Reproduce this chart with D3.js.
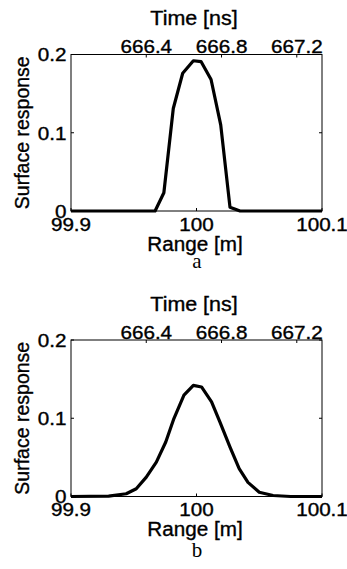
<!DOCTYPE html>
<html>
<head>
<meta charset="utf-8">
<script src="https://cdn.jsdelivr.net/npm/d3@7"></script>
<style>
body { margin: 0; background: #fff; }
svg { display: block; }
.lbl { font-family: "Liberation Sans", Arial, sans-serif; fill: #000; stroke: #000; stroke-width: 0.35px; }
.cap { font-family: "Liberation Serif", "Times New Roman", serif; fill: #000; }
</style>
</head>
<body>
<script>
// range [m] vs surface response
const rangeA = [99.9, 99.967, 99.974, 99.9815, 99.989, 99.9975, 100.0036, 100.0116, 100.0193, 100.0267, 100.0347, 100.1];
const respA  = [0, 0, 0.0233, 0.131, 0.176, 0.192, 0.191, 0.168, 0.110, 0.0047, 0, 0];

const rangeB = [99.9, 99.93, 99.944, 99.952, 99.96, 99.968, 99.9755, 99.982, 99.99, 99.9975, 100.004, 100.012,
                100.0187, 100.0267, 100.034, 100.041, 100.05, 100.061, 100.075, 100.1];
const respB  = [0, 0.0005, 0.0035, 0.0099, 0.0248, 0.044, 0.0697, 0.0996, 0.1295, 0.142, 0.140, 0.121,
                0.095, 0.063, 0.0355, 0.018, 0.0055, 0.0013, 0, 0];

const rangeTicks = [99.9, 100, 100.1];
const timeTicks = [666.4, 666.8, 667.2];
const respTicks = [0, 0.1, 0.2];
const rangeDomain = [99.9, 100.1];
const timeDomain = [666.0, 667.334];
const respDomain = [0, 0.2];

const W = 347, H = 569;
const left = 71, right = 322, plotH = 156.5;

let svg = d3.select("body").append("svg")
    .attr("width", W)
    .attr("height", H);

// horizontal text is drawn a bit wider than plain Arial, as in the scan
function txt(g, x, y, s, size, sx, anchor, base) {
    return g.append("text")
        .attr("class", "lbl")
        .attr("transform", `translate(${x},${y}) scale(${sx},1)`)
        .attr("text-anchor", anchor || "middle")
        .attr("dominant-baseline", base || "auto")
        .style("font-size", size + "px")
        .text(s);
}

function drawPanel(top, range, resp, caption, capY)
{
    const bottom = top + plotH;
    let g = svg.append("g");

    let x = d3.scaleLinear().domain(rangeDomain).range([left, right]);
    let xt = d3.scaleLinear().domain(timeDomain).range([left, right]);
    let y = d3.scaleLinear().domain(respDomain).range([bottom, top]);

    // box
    g.append("rect")
        .attr("x", left).attr("y", top)
        .attr("width", right - left).attr("height", plotH)
        .attr("fill", "none").attr("stroke", "#000").attr("stroke-width", 1);

    // inward ticks
    rangeTicks.forEach(v => {
        g.append("line").attr("x1", x(v)).attr("x2", x(v))
            .attr("y1", bottom).attr("y2", bottom - 3).attr("stroke", "#000");
        txt(g, x(v), bottom + 19.5, v, 17.5, 1.18);
    });
    timeTicks.forEach(v => {
        g.append("line").attr("x1", xt(v)).attr("x2", xt(v))
            .attr("y1", top).attr("y2", top + 3).attr("stroke", "#000");
        txt(g, xt(v), top - 1.5, v, 17.5, 1.18);
    });
    respTicks.forEach(v => {
        g.append("line").attr("x1", left).attr("x2", left + 3)
            .attr("y1", y(v)).attr("y2", y(v)).attr("stroke", "#000");
        g.append("line").attr("x1", right).attr("x2", right - 3)
            .attr("y1", y(v)).attr("y2", y(v)).attr("stroke", "#000");
        txt(g, 66.5, y(v) + 1, v, 17.5, 1.18, "end", "central");
    });

    let line = d3.line()
        .x((d, i) => x(range[i]))
        .y(d => y(d));

    g.append("path")
        .attr("d", line(resp))
        .attr("fill", "none")
        .attr("stroke", "#000")
        .attr("stroke-width", 3.2)
        .attr("stroke-linejoin", "round");

    txt(g, 194, top - 29.5, "Time [ns]", 19.5, 1.1);
    txt(g, 195, bottom + 39.5, "Range [m]", 19.5, 1.06);

    g.append("text")
        .attr("class", "lbl")
        .attr("transform", `translate(22,${(top + bottom) / 2}) rotate(-90)`)
        .attr("text-anchor", "middle")
        .attr("dominant-baseline", "central")
        .style("font-size", "19.5px")
        .text("Surface response");

    g.append("text")
        .attr("class", "cap")
        .attr("x", 197).attr("y", capY)
        .attr("text-anchor", "middle")
        .style("font-size", "21px")
        .text(caption);
}

drawPanel(54.5, rangeA, respA, "a", 268);
drawPanel(340, rangeB, respB, "b", 557);
</script>
</body>
</html>
